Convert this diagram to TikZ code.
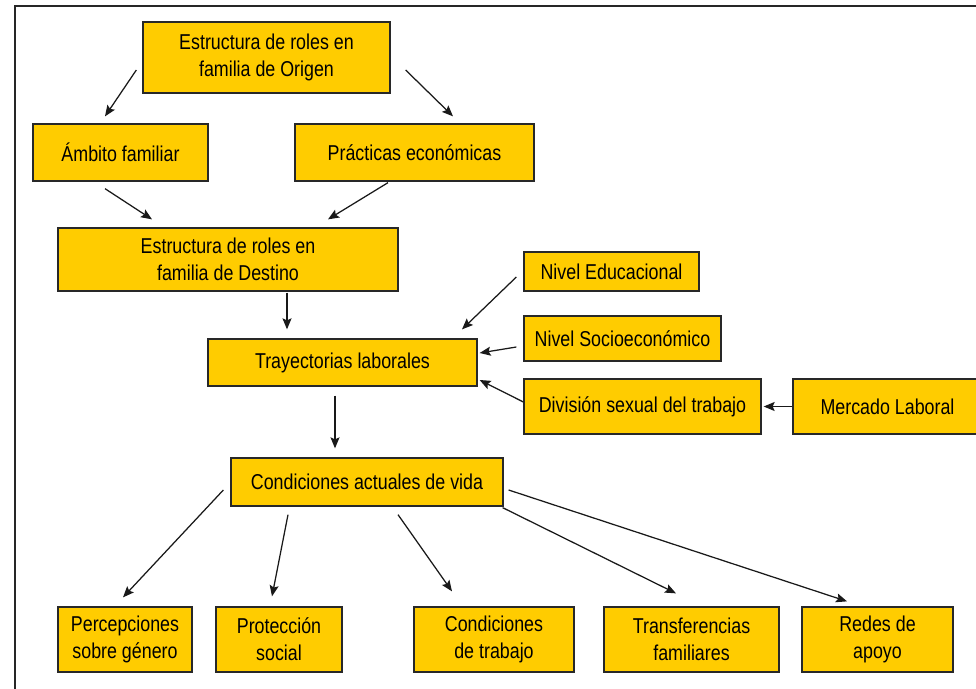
\documentclass[tikz,border=0pt]{standalone}
\usepackage{fontspec}
\setmainfont{Liberation Sans}[FakeStretch=0.83]
\usetikzlibrary{
    arrows.meta,
    positioning
}
\definecolor{caja}{RGB}{255,204,0}
\definecolor{borde}{RGB}{40,40,40}

\begin{document}
\begin{tikzpicture}[x=1pt,y=-1pt,
    box/.style={draw=borde, fill=caja, line width=1.3pt, inner sep=0pt,
                align=center, font=\fontsize{21.5}{27}\selectfont},
    arr/.style={draw=black!90, line width=1.25pt, -{Stealth[length=11pt,width=9pt,inset=2pt]}}]
    \useasboundingbox (0,0) rectangle (976,688);
    \draw[line width=1.8pt, black!85] (15,700) -- (15,6) -- (990,6);

    \node[box, minimum width=247, minimum height=71] (origen) at (266.5,57.5) {Estructura de roles en\\familia de Origen};
    \node[box, minimum width=175, minimum height=57] (ambito) at (120.5,152.5) {Ámbito familiar};
    \node[box, minimum width=239, minimum height=57] (practicas) at (414.5,152.5) {Prácticas económicas};
    \node[box, minimum width=340, minimum height=63] (destino) at (228,259.5) {Estructura de roles en\\familia de Destino};
    \node[box, minimum width=269, minimum height=47] (trayectorias) at (342.5,362.5) {Trayectorias laborales};
    \node[box, minimum width=175, minimum height=39] (educacional) at (611.5,271.5) {Nivel Educacional};
    \node[box, minimum width=197, minimum height=45] (socioeco) at (622.5,338.5) {Nivel Socioeconómico};
    \node[box, minimum width=237, minimum height=55] (division) at (642.5,406.5) {División sexual del trabajo};
    \node[box, minimum width=189, minimum height=55] (mercado) at (887.5,406.5) {Mercado Laboral};
    \node[box, minimum width=272, minimum height=48] (actuales) at (367,482) {Condiciones actuales de vida};
    \node[box, minimum width=134, minimum height=65] (percepciones) at (125,639.5) {Percepciones\\sobre género};
    \node[box, minimum width=126, minimum height=65] (proteccion) at (279,639.5) {Protección\\social};
    \node[box, minimum width=160, minimum height=65] (trabajo) at (494,639.5) {Condiciones\\de trabajo};
    \node[box, minimum width=175, minimum height=65] (transferencias) at (691.5,639.5) {Transferencias\\familiares};
    \node[box, minimum width=151, minimum height=65] (redes) at (877.5,639.5) {Redes de\\apoyo};

    \draw[arr] ([shift={(-6,12.5)}]origen.west) -- ([shift={(-15.5,-7)}]ambito.north);
    \draw[arr] ([shift={(15,12.5)}]origen.east) -- ([shift={(38.5,-7)}]practicas.north);
    \draw[arr] ([shift={(-15.5,7)}]ambito.south) -- ([shift={(-76,-8)}]destino.north);
    \draw[arr] ([shift={(-26.5,1)}]practicas.south) -- ([shift={(100,-8)}]destino.north);
    \draw[arr] ([shift={(59,1)}]destino.south) -- ([shift={(-55.5,-9)}]trayectorias.north);
    \draw[arr] ([shift={(-7.5,9)}]trayectorias.south) -- ([shift={(-32,-9)}]actuales.north);
    \draw[arr] ([shift={(-7,5.5)}]educacional.west) -- ([shift={(119.5,-9)}]trayectorias.north);
    \draw[arr] ([shift={(-7,8.5)}]socioeco.west) -- ([shift={(2,-9.5)}]trayectorias.east);
    \draw[arr] ([shift={(0,-4.5)}]division.west) -- ([shift={(2,17.5)}]trayectorias.east);
    \draw[arr, shorten >=2pt] (mercado) -- (division);
    \draw[arr] ([shift={(-7,8)}]actuales.west) -- ([shift={(-2,-9)}]percepciones.north);
    \draw[arr] ([shift={(-79,8)}]actuales.south) -- ([shift={(-7,-10)}]proteccion.north);
    \draw[arr] ([shift={(31,8)}]actuales.south) -- ([shift={(-42,-15)}]trabajo.north);
    \draw[arr] ([shift={(-1,1)}]actuales.south east) -- ([shift={(-15.5,-13)}]transferencias.north);
    \draw[arr] ([shift={(5,8)}]actuales.east) -- ([shift={(-30.5,-5)}]redes.north);
\end{tikzpicture}
\end{document}
